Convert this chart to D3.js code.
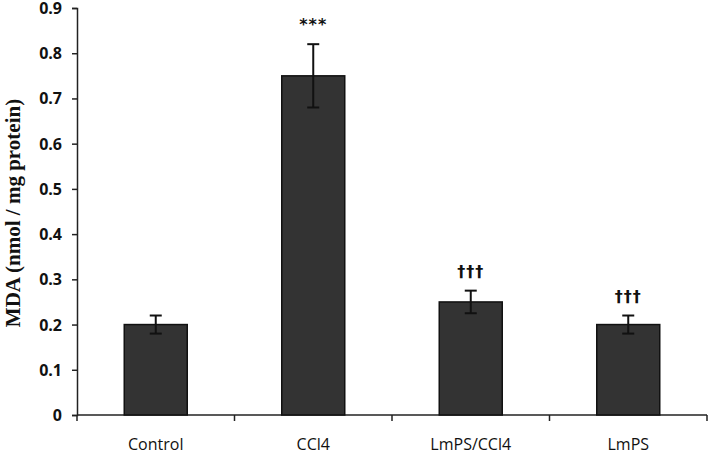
<!DOCTYPE html>
<html><head><meta charset="utf-8">
<script src="https://cdn.jsdelivr.net/npm/d3@7"></script>
<style>body{margin:0;background:#fff}svg{display:block}</style>
</head><body>
<script>
const categories = ["Control", "CCl4", "LmPS/CCl4", "LmPS"];
const values = [0.20, 0.75, 0.25, 0.20];
const errors = [0.02, 0.07, 0.025, 0.02];
const marks = ["", "***", "†††", "†††"];
const yTicks = [0, 0.1, 0.2, 0.3, 0.4, 0.5, 0.6, 0.7, 0.8, 0.9];
const yTitle = "MDA (nmol / mg protein)";

const W = 709, H = 455;
const mLeft = 77, mRight = 707, mTop = 8, mBottom = 415;
const svg = d3.select("body").append("svg").attr("width", W).attr("height", H);

const x = d3.scaleBand().domain(categories).range([mLeft, mRight]).paddingInner(0).paddingOuter(0);
const y = d3.scaleLinear().domain([0, 0.9]).range([mBottom, mTop]);
const bw = x.bandwidth() * 0.4;

// y axis
const yAxis = svg.append("g").attr("transform", `translate(${mLeft},0)`)
  .call(d3.axisLeft(y).tickValues(yTicks).tickFormat(d => d === 0 ? "0" : d3.format(".1f")(d)).tickSize(5).tickPadding(10));
yAxis.select(".domain").attr("stroke", "#222").attr("stroke-width", 1.5);
yAxis.selectAll(".tick line").attr("stroke", "#222").attr("stroke-width", 1.5);
yAxis.selectAll("text").attr("font-family", "'Open Sans', sans-serif").attr("font-weight", "bold")
  .attr("font-size", 16).attr("fill", "#111").attr("dy", "0.34em");

// x axis line with boundary ticks
const xg = svg.append("g");
xg.append("line").attr("x1", mLeft).attr("x2", mRight).attr("y1", mBottom).attr("y2", mBottom)
  .attr("stroke", "#222").attr("stroke-width", 1.5);
const bounds = categories.map(c => x(c)).concat([x(categories[categories.length - 1]) + x.bandwidth()]);
xg.selectAll("line.tk").data(bounds).enter().append("line").attr("class", "tk")
  .attr("x1", d => d).attr("x2", d => d).attr("y1", mBottom).attr("y2", mBottom + 6)
  .attr("stroke", "#222").attr("stroke-width", 1.5);
xg.selectAll("text").data(categories).enter().append("text")
  .attr("x", d => x(d) + x.bandwidth() / 2).attr("y", 450)
  .attr("text-anchor", "middle").attr("font-family", "'Open Sans', sans-serif")
  .attr("font-size", 16).attr("fill", "#111").text(d => d);

// bars
svg.selectAll("rect.bar").data(categories).enter().append("rect").attr("class", "bar")
  .attr("x", (d) => x(d) + x.bandwidth() / 2 - bw / 2)
  .attr("width", bw)
  .attr("y", (d, i) => y(values[i]))
  .attr("height", (d, i) => y(0) - y(values[i]))
  .attr("fill", "#333333").attr("stroke", "#111").attr("stroke-width", 1.5);

// error bars
const eg = svg.append("g").attr("stroke", "#111").attr("stroke-width", 2);
categories.forEach((c, i) => {
  const cx = x(c) + x.bandwidth() / 2;
  const hi = y(values[i] + errors[i]), lo = y(values[i] - errors[i]);
  eg.append("line").attr("x1", cx).attr("x2", cx).attr("y1", hi).attr("y2", lo);
  eg.append("line").attr("x1", cx - 6).attr("x2", cx + 6).attr("y1", hi).attr("y2", hi);
  eg.append("line").attr("x1", cx - 6).attr("x2", cx + 6).attr("y1", lo).attr("y2", lo);
});

// significance marks
svg.selectAll("text.mark").data(categories).enter().append("text").attr("class", "mark")
  .attr("x", d => x(d) + x.bandwidth() / 2)
  .attr("y", (d, i) => y(values[i] + errors[i]) - 14)
  .attr("text-anchor", "middle").attr("font-family", "'DejaVu Sans', sans-serif")
  .attr("font-weight", "bold").attr("font-size", 16).attr("fill", "#111")
  .attr("letter-spacing", 1)
  .text((d, i) => marks[i]);

// y title
svg.append("text").attr("transform", `translate(20,213) rotate(-90)`)
  .attr("text-anchor", "middle").attr("font-family", "'Liberation Serif', 'Times New Roman', serif")
  .attr("font-weight", "bold").attr("font-size", 21).attr("fill", "#111").text(yTitle);
</script>
</body></html>
